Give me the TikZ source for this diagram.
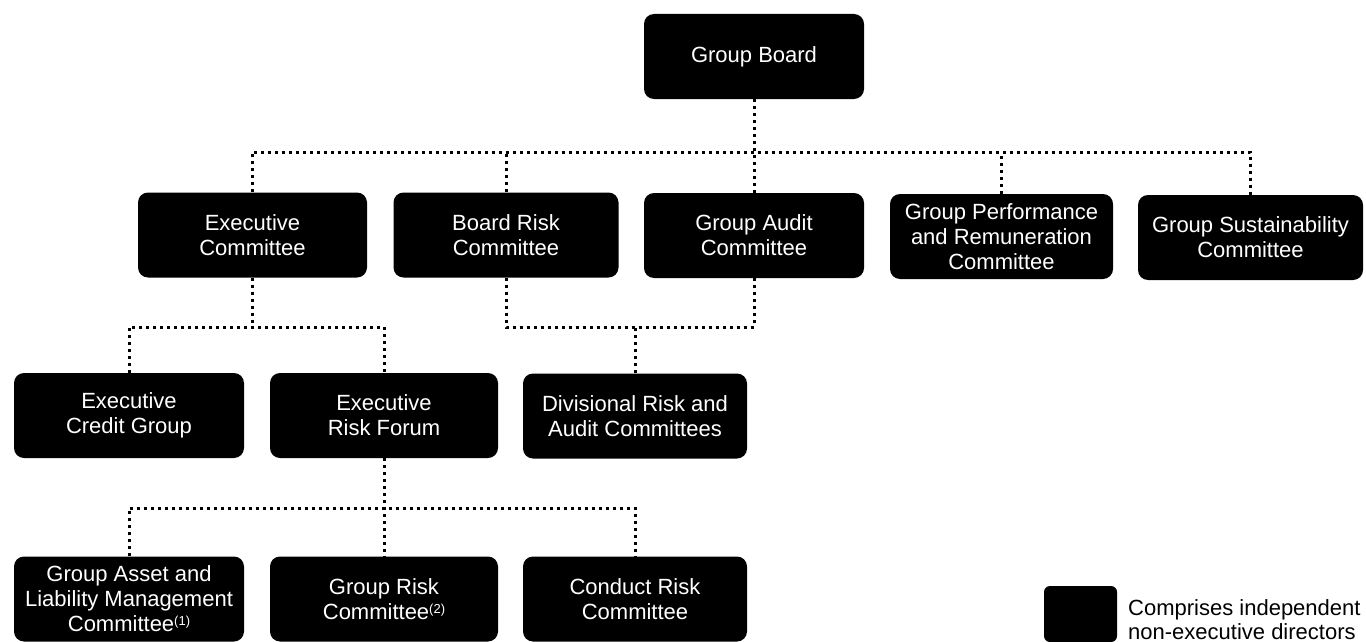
\documentclass[tikz,border=0pt]{standalone}
\usepackage{fontspec}
\setmainfont{Liberation Sans}
\newcommand\fnmark[1]{\raisebox{6pt}{\fontsize{13pt}{13pt}\selectfont(#1)}}
\begin{document}
\begin{tikzpicture}[x=1pt,y=-1pt,
  box/.style={fill=black, rounded corners=10pt, text=white, align=center, inner sep=0pt,
    minimum height=85pt, font=\fontsize{22pt}{25pt}\selectfont},
  conn/.style={line width=3pt, dash pattern=on 3pt off 4pt}]
\useasboundingbox (0,0) rectangle (1366,642);
% boxes
\node[box, minimum width=220pt] (gb) at (754,56.5) {Group Board};
\node[box, minimum width=229pt] (ec) at (252.5,235) {Executive\\Committee};
\node[box, minimum width=225pt] (brc) at (506,235) {Board Risk\\Committee};
\node[box, minimum width=220pt] (gac) at (754,235.5) {Group Audit\\Committee};
\node[box, minimum width=223pt] (gprc) at (1001.5,236.5) {Group Performance\\and Remuneration\\Committee};
\node[box, minimum width=225pt] (gsc) at (1250.5,237.5) {Group Sustainability\\Committee};
\node[box, minimum width=230pt] (ecg) at (129,415.5) {Executive\\Credit Group};
\node[box, minimum width=228pt] (erf) at (384,415.5) {Executive\\Risk Forum};
\node[box, minimum width=224pt] (drac) at (635,416) {Divisional Risk and\\Audit Committees};
\node[box, minimum width=230pt, minimum height=85pt] (galmc) at (129,599) {Group Asset and\\Liability Management\\Committee\fnmark{1}};
\node[box, minimum width=228pt, minimum height=85pt] (grc) at (384,599) {Group Risk\\Committee\fnmark{2}};
\node[box, minimum width=224pt, minimum height=85pt] (crc) at (635,599) {Conduct Risk\\Committee};
% legend
\node[fill=black, rounded corners=6pt, minimum width=73pt, minimum height=56pt, inner sep=0pt] (leg) at (1080.5,614) {};
\node[anchor=west, align=left, inner sep=0pt, font=\fontsize{22pt}{24pt}\selectfont] (legtext) at (1128,620) {Comprises independent\\non-executive directors};
% connectors
\coordinate (bar1) at (0,152);
\coordinate (bar2) at (0,327);
\coordinate (bar3) at (0,508);
\draw[conn] (gb.south) -- (gac.north);
\draw[conn] (ec.north) -- (ec.north |- bar1) -- (gsc.north |- bar1) -- (gsc.north);
\draw[conn] (brc.north) -- (brc.north |- bar1);
\draw[conn] (gprc.north) -- (gprc.north |- bar1);
\draw[conn] (ecg.north) -- (ecg.north |- bar2) -- (erf.north |- bar2) -- (erf.north);
\draw[conn] (ec.south) -- (ec.south |- bar2);
\draw[conn] (brc.south) -- (brc.south |- bar2) -- (gac.south |- bar2) -- (gac.south);
\draw[conn] (drac.north) -- (drac.north |- bar2);
\draw[conn] (erf.south) -- (grc.north);
\draw[conn] (galmc.north) -- (galmc.north |- bar3) -- (crc.north |- bar3) -- (crc.north);
\end{tikzpicture}
\end{document}
